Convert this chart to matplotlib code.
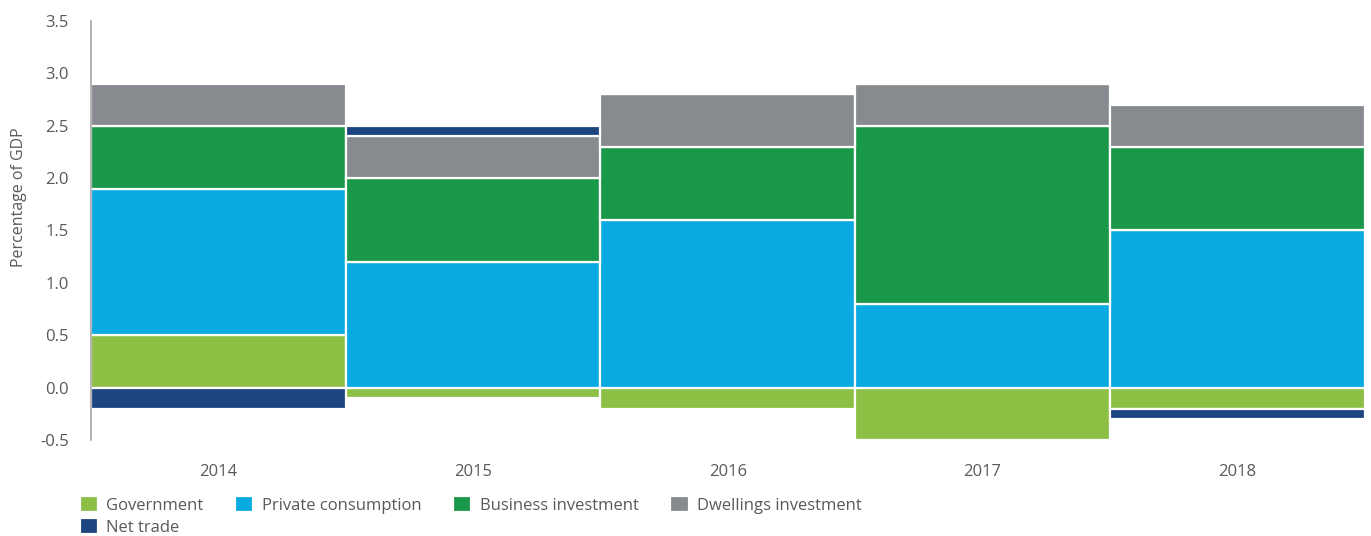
import matplotlib
matplotlib.use("Agg")
import matplotlib.pyplot as plt
import numpy as np

# data
years = ["2014", "2015", "2016", "2017", "2018"]
government = [0.5, -0.1, -0.2, -0.5, -0.2]
private_consumption = [1.4, 1.2, 1.6, 0.8, 1.5]
business_investment = [0.6, 0.8, 0.7, 1.7, 0.8]
dwellings_investment = [0.4, 0.4, 0.5, 0.4, 0.4]
net_trade = [-0.2, 0.1, 0.0, 0.0, -0.1]

series = [
    ("Government", government, "#8dbf44"),
    ("Private consumption", private_consumption, "#09a9e1"),
    ("Business investment", business_investment, "#1a9849"),
    ("Dwellings investment", dwellings_investment, "#878a8f"),
    ("Net trade", net_trade, "#1d4580"),
]

plt.rcParams['font.family'] = ['Open Sans', 'DejaVu Sans']
text_col = "#595959"

fig = plt.figure(figsize=(13.71, 5.36), dpi=100)
ax = fig.add_axes([0.0664, 0.179, 0.929, 0.782])

# stacked bars: positives stack up from 0, negatives stack down
x = np.arange(len(years))
pos_base = np.zeros(len(years))
neg_base = np.zeros(len(years))
handles = {}
for name, vals, col in series:
    v = np.array(vals)
    bottom = np.where(v >= 0, pos_base, neg_base)
    bars = ax.bar(x, v, width=1.0, bottom=bottom, color=col,
                  edgecolor="white", linewidth=1.6, label=name)
    handles[name] = bars
    pos_base = pos_base + np.where(v > 0, v, 0)
    neg_base = neg_base + np.where(v < 0, v, 0)

ax.set_xlim(-0.5, 4.5)
ax.set_ylim(-0.5, 3.5)
ax.set_yticks(np.arange(-0.5, 3.51, 0.5))
ax.set_yticklabels([f"{t:.1f}" for t in np.arange(-0.5, 3.51, 0.5)])
ax.set_xticks(x)
ax.set_xticklabels(years)
ax.tick_params(axis="both", length=0, labelsize=12, colors=text_col)
ax.tick_params(axis="x", pad=17)
ax.tick_params(axis="y", pad=16)
for s in ["top", "right", "bottom"]:
    ax.spines[s].set_visible(False)
ax.spines["left"].set_color("#a6a6a6")
ax.spines["left"].set_linewidth(1.2)
ax.set_ylabel("Percentage of GDP", fontsize=11.5, color=text_col)
ax.yaxis.set_label_coords(-0.050, 0.58)

# order so that "Net trade" lands under "Government"
order = ["Government", "Net trade", "Private consumption",
         "Business investment", "Dwellings investment"]
leg = fig.legend([handles[n] for n in order], order, loc="upper left",
                 bbox_to_anchor=(0.058, 0.074), ncol=4, frameon=False,
                 fontsize=12, handlelength=1.1, handleheight=1.1,
                 handletextpad=0.5, columnspacing=1.9, labelspacing=0.25,
                 borderaxespad=0, borderpad=0)
for t in leg.get_texts():
    t.set_color(text_col)

fig.savefig("out.png", dpi=100)
